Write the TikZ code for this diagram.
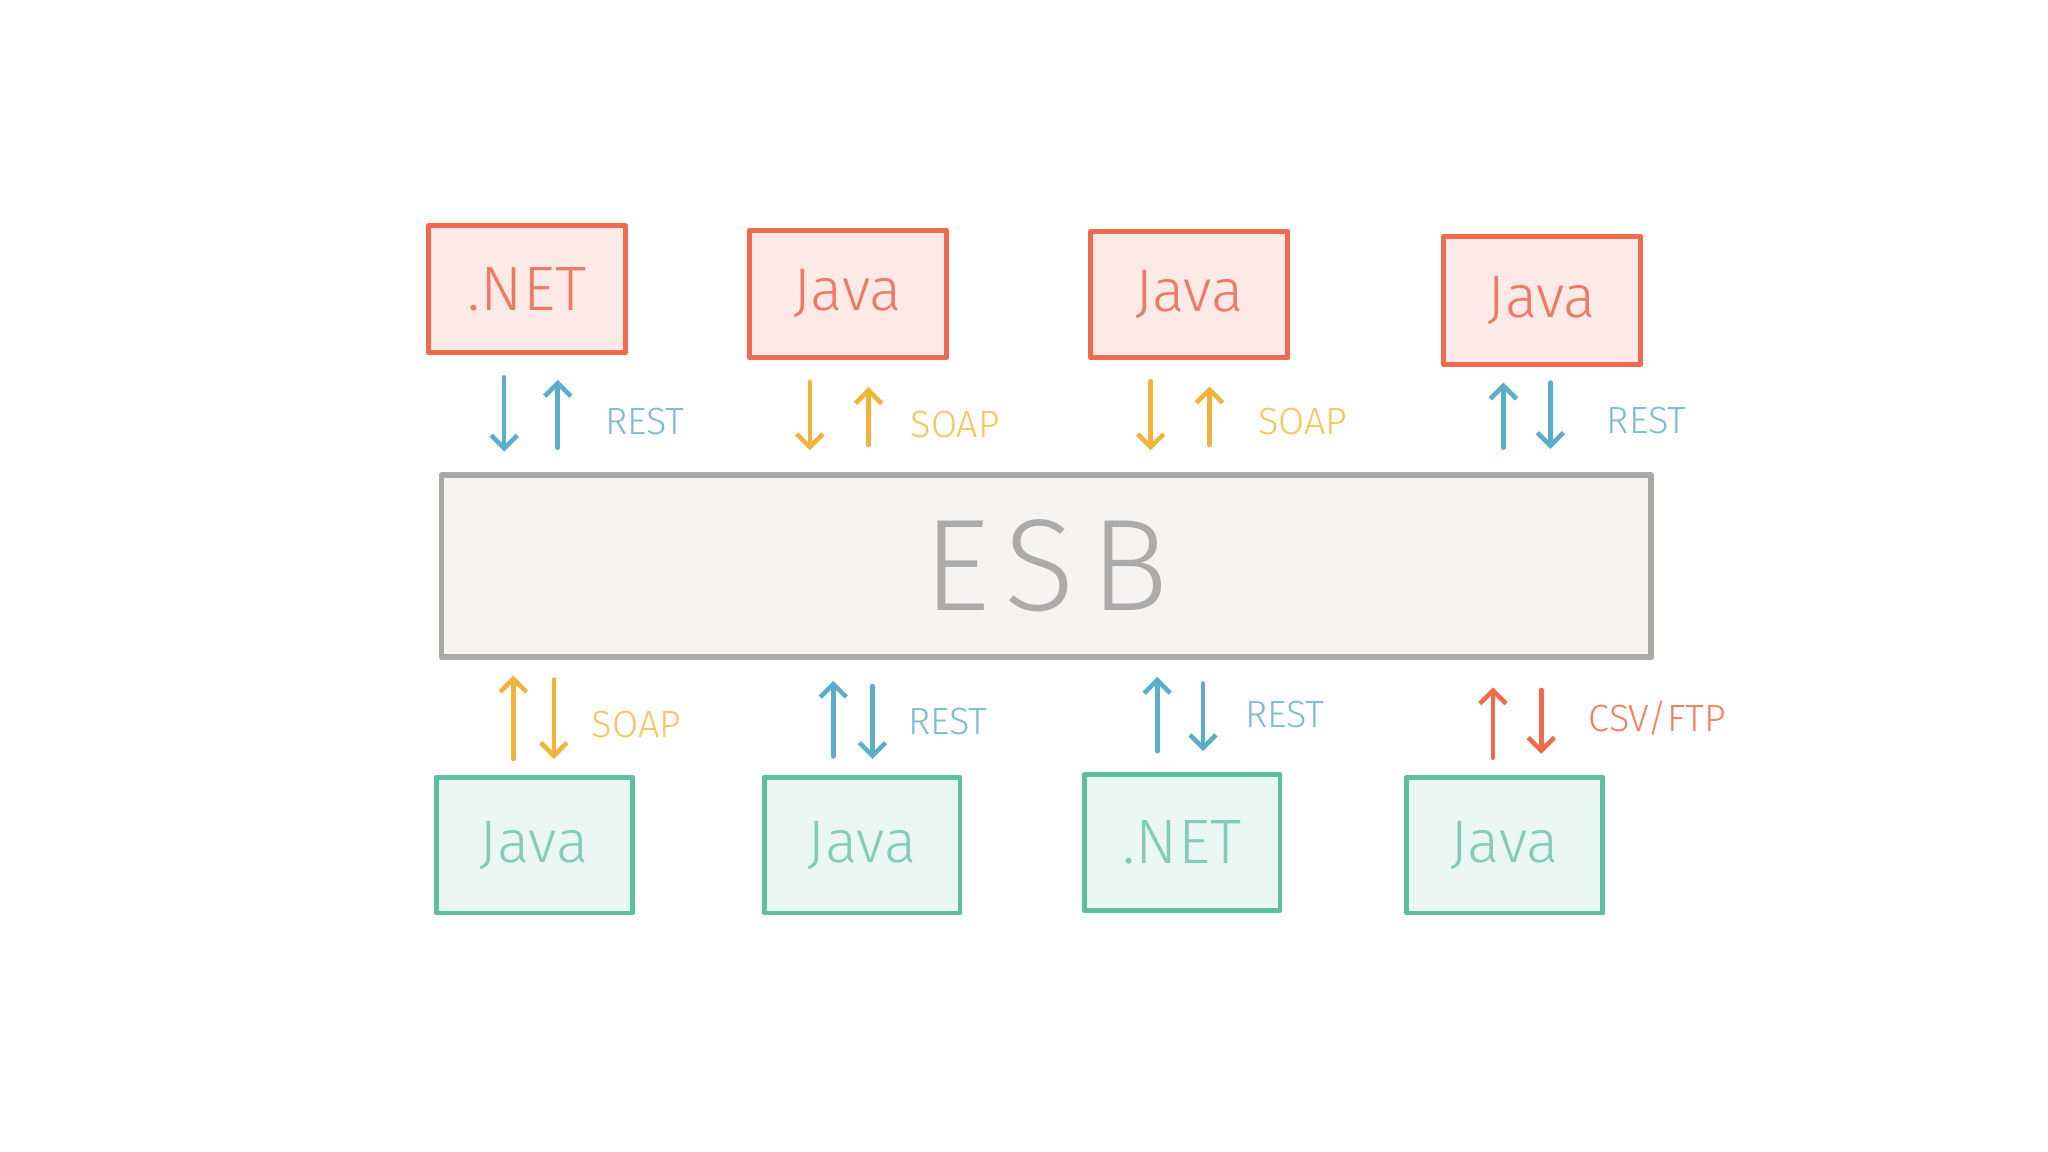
\documentclass[tikz,border=0pt]{standalone}
\usepackage{fontspec}
\newfontfamily\hand{Fira Sans}[UprightFont={* Light}]
\usetikzlibrary{arrows.meta}
\definecolor{coral}{HTML}{EF6B4F}
\definecolor{coralfill}{HTML}{FDE9E5}
\definecolor{coraltext}{HTML}{EE7A66}
\definecolor{teal}{HTML}{5DBF9F}
\definecolor{tealfill}{HTML}{EBF7F3}
\definecolor{tealtext}{HTML}{82CDB5}
\definecolor{esbline}{HTML}{A9A9A7}
\definecolor{esbfill}{HTML}{F5F4F2}
\definecolor{esbtext}{HTML}{ABABAB}
\definecolor{arrblue}{HTML}{5BADC8}
\definecolor{lblblue}{HTML}{7DBCD2}
\definecolor{arryellow}{HTML}{F2B33D}
\definecolor{lblyellow}{HTML}{F5C560}
\definecolor{arrred}{HTML}{F06A4B}
\definecolor{lblred}{HTML}{F07F65}
\begin{document}
\begin{tikzpicture}[x=1pt,y=-1pt,line cap=round,line join=round,
  topbox/.style={draw=coral,fill=coralfill,line width=3.8pt,minimum width=151pt,minimum height=97pt,inner sep=0pt,text=coraltext},
  botbox/.style={draw=teal,fill=tealfill,line width=3.8pt,minimum width=150pt,minimum height=104pt,inner sep=0pt,text=tealtext},
  esbbox/.style={draw=esbline,fill=esbfill,line width=4.5pt,minimum width=926pt,minimum height=139pt,inner sep=0pt,text=esbtext},
  javafont/.style={font=\hand\fontsize{46}{46}\selectfont},
  netfont/.style={font=\hand\fontsize{48}{48}\selectfont},
  lbl/.style={font=\hand\fontsize{29}{29}\selectfont,anchor=base west,inner sep=0pt},
  tip/.style={-{Straight Barb[length=10pt,width=20pt]}},
  barrow/.style={draw=arrblue,line width=3.5pt,tip},
  yarrow/.style={draw=arryellow,line width=3.5pt,tip},
  rarrow/.style={draw=arrred,line width=3.5pt,tip}]
\useasboundingbox[fill=white] (0,0) rectangle (1568,882);

% top boxes
\node[topbox,netfont] (t1) at (403.5,221.5) {.NET};
\node[topbox,javafont] (t2) at (649,225) {\raisebox{-5pt}{Java}};
\node[topbox,javafont] (t3) at (910.5,225.5) {\raisebox{-5pt}{Java}};
\node[topbox,javafont,minimum height=98pt] (t4) at (1180.5,230) {\raisebox{-5pt}{Java}};

% ESB
\node[esbbox,font=\hand\addfontfeature{LetterSpace=12}\fontsize{100}{100}\selectfont] (esb) at (801,433.5) {ESB};

% bottom boxes
\node[botbox,javafont] (b1) at (409,647) {\raisebox{-7pt}{Java}};
\node[botbox,javafont] (b2) at (660,647) {\raisebox{-7pt}{Java}};
\node[botbox,netfont] (b3) at (905,645) {.NET};
\node[botbox,javafont] (b4) at (1152,647) {\raisebox{-7pt}{Java}};

% top arrows
\draw[barrow,shorten <=17pt,shorten >=16pt] ([xshift=-17.5pt]t1.south) -- ([xshift=-17.5pt]t1.south |- esb.north);
\draw[barrow,shorten <=19pt,shorten >=19pt] ([xshift=23.5pt]t1.south |- esb.north) -- ([xshift=23.5pt]t1.south);
\draw[yarrow,shorten <=17pt,shorten >=17pt] ([xshift=-29pt]t2.south) -- ([xshift=-29pt]t2.south |- esb.north);
\draw[yarrow,shorten <=21pt,shorten >=21pt] ([xshift=16pt]t2.south |- esb.north) -- ([xshift=16pt]t2.south);
\draw[yarrow,shorten <=16pt,shorten >=17pt] ([xshift=-29.5pt]t3.south) -- ([xshift=-29.5pt]t3.south |- esb.north);
\draw[yarrow,shorten <=21pt,shorten >=20pt] ([xshift=15.5pt]t3.south |- esb.north) -- ([xshift=15.5pt]t3.south);
\draw[barrow,shorten <=19pt,shorten >=12pt] ([xshift=-29.5pt]t4.south |- esb.north) -- ([xshift=-29.5pt]t4.south);
\draw[barrow,shorten <=12pt,shorten >=18pt] ([xshift=6.5pt]t4.south) -- ([xshift=6.5pt]t4.south |- esb.north);

% bottom arrows
\draw[yarrow,shorten <=12pt,shorten >=12pt] ([xshift=-16pt]b1.north) -- ([xshift=-16pt]b1.north |- esb.south);
\draw[yarrow,shorten <=15pt,shorten >=12pt] ([xshift=15pt]b1.north |- esb.south) -- ([xshift=15pt]b1.north);
\draw[barrow,shorten <=14pt,shorten >=16pt] ([xshift=-22pt]b2.north) -- ([xshift=-22pt]b2.north |- esb.south);
\draw[barrow,shorten <=20pt,shorten >=12pt] ([xshift=8pt]b2.north |- esb.south) -- ([xshift=8pt]b2.north);
\draw[barrow,shorten <=16pt,shorten >=13pt] ([xshift=-19pt]b3.north) -- ([xshift=-19pt]b3.north |- esb.south);
\draw[barrow,shorten <=18pt,shorten >=16pt] ([xshift=16pt]b3.north |- esb.south) -- ([xshift=16pt]b3.north);
\draw[rarrow,shorten <=13pt,shorten >=21pt] ([xshift=-9pt]b4.north) -- ([xshift=-9pt]b4.north |- esb.south);
\draw[rarrow,shorten <=23pt,shorten >=16pt] ([xshift=28pt]b4.north |- esb.south) -- ([xshift=28pt]b4.north);

% labels
\node[lbl,text=lblblue] (l1) at (463,333) {REST};
\node[lbl,text=lblyellow] (l2) at (697,335) {SOAP};
\node[lbl,text=lblyellow] (l3) at (963,333) {SOAP};
\node[lbl,text=lblblue] (l4) at (1230,332) {REST};
\node[lbl,text=lblyellow] (l5) at (453,565) {SOAP};
\node[lbl,text=lblblue] (l6) at (695,562) {REST};
\node[lbl,text=lblblue] (l7) at (953,557) {REST};
\node[lbl,text=lblred] (l8) at (1216,560) {CSV/FTP};
\end{tikzpicture}
\end{document}
